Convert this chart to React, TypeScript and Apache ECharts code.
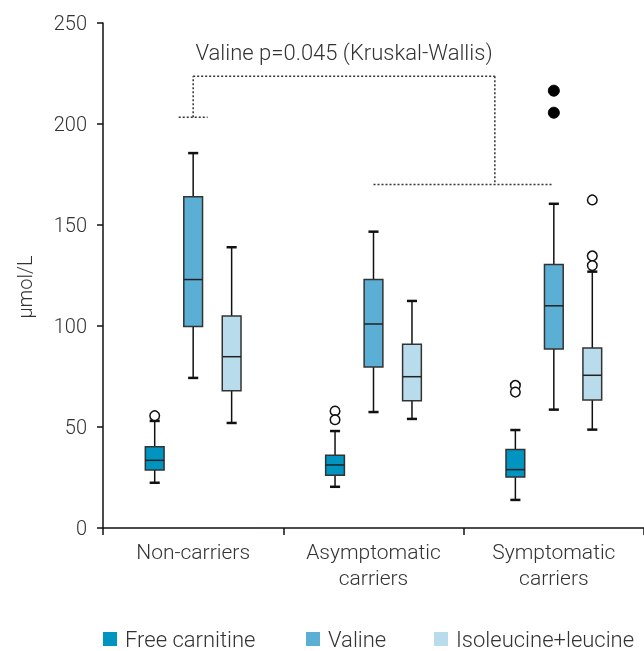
import React, { useEffect, useRef } from "react";
import * as echarts from "echarts";

// ---- data ----
const categories = ["Non-carriers", "Asymptomatic\ncarriers", "Symptomatic\ncarriers"];
const seriesNames = ["Free carnitine", "Valine", "Isoleucine+leucine"];
// [min, Q1, median, Q3, max] per category
const freeCarnitine = [
  [22.4, 28.7, 33.5, 40.2, 53],
  [20.4, 26.1, 31.2, 36, 48],
  [13.9, 25.2, 28.9, 38.8, 48.5],
];
const valine = [
  [74.3, 99.7, 123, 164, 185.6],
  [57.4, 79.7, 101, 123, 146.7],
  [58.6, 88.6, 110, 130.5, 160.5],
];
const isoleucineLeucine = [
  [52, 68, 84.8, 105, 139],
  [54, 63, 74.9, 91, 112.4],
  [48.7, 63.4, 75.6, 89.1, 126.9],
];
// outliers: [categoryIndex, value]
const freeCarnitineOutliers = [[0, 55.6], [1, 57.9], [1, 53.6], [2, 70.6], [2, 67.3]];
const valineOutliers = [[2, 216.5], [2, 205.6]];
const isoleucineLeucineOutliers = [[2, 162.4], [2, 134.7], [2, 129.9]];
// bracket annotation levels: left stub, top bar, right stub, text level
const bracketLevels = [203.3, 223.6, 170];
const annotationLevel = 235.5;
const annotationText = "Valine p=0.045 (Kruskal-Wallis)";
const yTicks = { min: 0, max: 250, interval: 50 };

const colors = ["#0094C0", "#5BAFD5", "#B9DCEC"];
const offsets = [-0.2133, 0, 0.2133];
const legendLefts = [103, 306, 434];
const FONT = "Roboto";

function boxRender(offsetFrac: number) {
  return (params: any, api: any) => {
    const ci = api.value(0);
    const band = api.size([1, 0])[0];
    const cx = api.coord([ci, 0])[0] + offsetFrac * band;
    const w = band * 0.104;
    const capW = band * 0.056;
    const y = (k: number) => api.coord([ci, api.value(k)])[1];
    const yMin = y(1), yQ1 = y(2), yMed = y(3), yQ3 = y(4), yMax = y(5);
    const color = api.visual("color");
    const wl = { stroke: "#111", lineWidth: 1.5 };
    const cl = { stroke: "#111", lineWidth: 2.5 };
    return {
      type: "group",
      children: [
        { type: "line", shape: { x1: cx, y1: yQ3, x2: cx, y2: yMax }, style: wl },
        { type: "line", shape: { x1: cx - capW / 2, y1: yMax, x2: cx + capW / 2, y2: yMax }, style: cl },
        { type: "line", shape: { x1: cx, y1: yQ1, x2: cx, y2: yMin }, style: wl },
        { type: "line", shape: { x1: cx - capW / 2, y1: yMin, x2: cx + capW / 2, y2: yMin }, style: cl },
        {
          type: "rect",
          shape: { x: cx - w / 2, y: yQ3, width: w, height: yQ1 - yQ3 },
          style: { fill: color, stroke: "#333", lineWidth: 1.5 },
        },
        { type: "line", shape: { x1: cx - w / 2, y1: yMed, x2: cx + w / 2, y2: yMed }, style: { stroke: "#222", lineWidth: 1.5 } },
      ],
    };
  };
}

function outlierRender(offsetFrac: number, filled: boolean) {
  return (params: any, api: any) => {
    const ci = api.value(0);
    const band = api.size([1, 0])[0];
    const p = api.coord([ci, api.value(1)]);
    return {
      type: "circle",
      shape: { cx: p[0] + offsetFrac * band, cy: p[1], r: filled ? 5.5 : 4.8 },
      style: filled ? { fill: "#000", stroke: "#000", lineWidth: 1 } : { fill: "#fff", stroke: "#111", lineWidth: 1.5 },
    };
  };
}

function bracketRender(params: any, api: any) {
  const band = api.size([1, 0])[0];
  const x0 = api.coord([0, 0])[0];
  const x1 = api.coord([1, 0])[0];
  const x2 = api.coord([2, 0])[0];
  const yL = api.coord([0, bracketLevels[0]])[1];
  const yT = api.coord([0, bracketLevels[1]])[1];
  const yR = api.coord([0, bracketLevels[2]])[1];
  const yText = api.coord([0, annotationLevel])[1];
  const xv = x1 + (x2 - x1) * 0.673;
  const ls = { stroke: "#333", lineWidth: 1.5, lineDash: [2, 2] };
  const stub = band * 0.08;
  return {
    type: "group",
    children: [
      { type: "line", shape: { x1: x0 - stub, y1: yL, x2: x0 + stub, y2: yL }, style: ls },
      { type: "line", shape: { x1: x0, y1: yL, x2: x0, y2: yT }, style: ls },
      { type: "line", shape: { x1: x0, y1: yT, x2: xv, y2: yT }, style: ls },
      { type: "line", shape: { x1: xv, y1: yT, x2: xv, y2: yR }, style: ls },
      { type: "line", shape: { x1: x1, y1: yR, x2: x2 - 2, y2: yR }, style: ls },
      {
        type: "text",
        x: (x0 + xv) / 2,
        y: yText,
        style: {
          text: annotationText,
          align: "center",
          verticalAlign: "middle",
          fontFamily: FONT,
          fontWeight: 300,
          fontSize: 22,
          fill: "#333",
        },
      },
    ],
  };
}

export default function App() {
  const ref = useRef<HTMLDivElement>(null);
  useEffect(() => {
    if (!ref.current) return;
    const chart = echarts.init(ref.current, null, { renderer: "svg" });
    const boxData = [freeCarnitine, valine, isoleucineLeucine];
    const outData = [freeCarnitineOutliers, valineOutliers, isoleucineLeucineOutliers];
    const series: any[] = [];
    seriesNames.forEach((name, i) => {
      series.push({
        type: "custom",
        name,
        clip: false,
        itemStyle: { color: colors[i] },
        renderItem: boxRender(offsets[i]),
        encode: { x: 0, y: [1, 2, 3, 4, 5] },
        data: boxData[i].map((d, ci) => [ci, ...d]),
        z: 3,
      });
    });
    seriesNames.forEach((name, i) => {
      series.push({
        type: "custom",
        name: name + " outliers",
        clip: false,
        renderItem: outlierRender(offsets[i], i === 1),
        encode: { x: 0, y: 1 },
        data: outData[i],
        z: 4,
      });
    });
    series.push({
      type: "custom",
      name: "bracket",
      clip: false,
      renderItem: bracketRender,
      encode: { x: 0, y: 1 },
      data: [[0, bracketLevels[1]]],
      z: 2,
    });
    const legends = seriesNames.map((name, i) => ({
      data: [name],
      left: legendLefts[i],
      top: 628,
      padding: 0,
      icon: "rect",
      itemWidth: 14,
      itemHeight: 14,
      itemStyle: { borderWidth: 0 },
      textStyle: {
        fontSize: 22,
        fontWeight: 300,
        color: "#333",
        fontFamily: FONT,
        lineHeight: 22,
        padding: [0, 0, 0, 3],
      },
    }));
    chart.setOption({
      animation: false,
      textStyle: { fontFamily: FONT },
      grid: { left: 103, right: 0, top: 23, bottom: 123, containLabel: false, outerBoundsMode: "none" },
      legend: legends,
      xAxis: {
        type: "category",
        data: categories,
        boundaryGap: true,
        axisLine: { lineStyle: { color: "#111", width: 1.5 } },
        axisTick: { show: true, length: 7, lineStyle: { color: "#111", width: 1.5 } },
        axisLabel: { fontSize: 21, fontWeight: 300, color: "#333", margin: 11, lineHeight: 26, fontFamily: FONT },
        splitLine: { show: false },
      },
      yAxis: {
        type: "value",
        min: yTicks.min,
        max: yTicks.max,
        interval: yTicks.interval,
        axisLine: { show: true, lineStyle: { color: "#111", width: 1.5 } },
        axisTick: { show: true, length: 6, lineStyle: { color: "#111", width: 1.5 } },
        axisLabel: { fontSize: 20, fontWeight: 300, color: "#333", margin: 16, fontFamily: FONT },
        splitLine: { show: false },
      },
      graphic: [
        {
          type: "text",
          x: 25,
          y: 287,
          rotation: Math.PI / 2,
          style: {
            text: "μmol/L",
            align: "center",
            verticalAlign: "middle",
            fontSize: 20,
            fontWeight: 300,
            fontFamily: FONT,
            fill: "#333",
          },
        },
      ],
      series,
    });
    return () => chart.dispose();
  }, []);
  return <div ref={ref} style={{ position: "fixed", left: 0, top: 0, width: 644, height: 651 }} />;
}
